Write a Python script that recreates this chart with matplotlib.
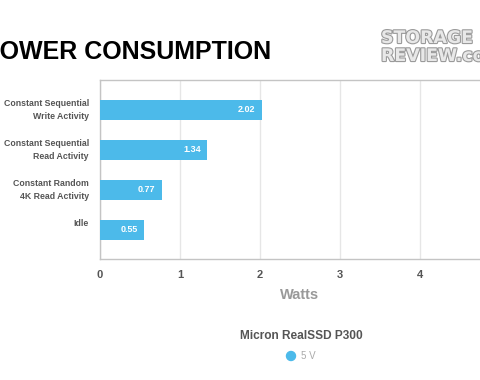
import matplotlib
matplotlib.use("Agg")
import matplotlib.pyplot as plt
import matplotlib.patheffects as pe

categories = ["Constant Sequential\nWrite Activity",
              "Constant Sequential\nRead Activity",
              "Constant Random\n4K Read Activity",
              "Idle"]
watts = [2.02, 1.34, 0.77, 0.55]
x_ticks = [0, 1, 2, 3, 4]
series_name = "5 V"
legend_title = "Micron RealSSD P300"

bar_color = "#4cbaea"
W, H = 480, 380

plt.rcParams['font.family'] = ['Liberation Sans', 'DejaVu Sans']
fig = plt.figure(figsize=(W / 100, H / 100), dpi=100)
fig.patch.set_facecolor("white")

# axes run past the right edge of the picture (up to x=5), like the original crop
ax = fig.add_axes([100 / W, (H - 259) / H, 400 / W, 179 / H])
pos = list(range(len(categories)))
ax.barh(pos, watts, height=0.5, color=bar_color, zorder=3)
ax.set_ylim(3.725, -0.75)
ax.set_xlim(0, 5)
ax.set_xticks(x_ticks)
ax.set_xticklabels([str(t) for t in x_ticks], fontsize=8, fontweight="bold", color="#555555")
ax.tick_params(axis="x", length=0, pad=8)
ax.set_yticks([])
ax.grid(axis="x", color="#e6e6e6", linewidth=1, zorder=0)
for side in ["left", "bottom", "top"]:
    ax.spines[side].set_color("#c4c4c4")
    ax.spines[side].set_linewidth(1)
ax.spines["right"].set_visible(False)
ax.set_xlabel("Watts", fontsize=10.5, fontweight="bold", color="#999999", labelpad=6)

for i, (cat, v) in enumerate(zip(categories, watts)):
    ax.text(v - 0.08, i, f"{v:.2f}", ha="right", va="center", color="white",
            fontsize=6.5, fontweight="bold", zorder=4)
    ax.text(-0.14, i - 0.27, cat, ha="right", va="top", color="#555555",
            fontsize=6.3, fontweight="bold", linespacing=1.55)

# title, first letter cut by the left edge
fig.text(-17 / W, (H - 59) / H, "POWER CONSUMPTION", fontsize=18, fontweight="bold",
         color="black", ha="left", va="baseline")

# logo
logo_fx = [pe.withStroke(linewidth=1.6, foreground="#9a9a9a")]
fig.text(381 / W, (H - 43) / H, "STORAGE", fontsize=12.5, fontweight="bold",
         color="#e8e8e8", ha="left", va="baseline", family="Liberation Sans Narrow",
         path_effects=logo_fx)
fig.text(381 / W, (H - 61) / H, "REVIEW.com", fontsize=12.5, fontweight="bold",
         color="#e8e8e8", ha="left", va="baseline", family="Liberation Sans Narrow",
         path_effects=logo_fx)

# legend
fig.text(301 / W, (H - 336) / H, legend_title, fontsize=8.6, fontweight="bold",
         color="#555555", ha="center", va="center")
fig.patches.append(matplotlib.patches.Ellipse((291 / W, (H - 356) / H), 9 / W, 9 / H,
                                              transform=fig.transFigure, color=bar_color))
fig.text(301 / W, (H - 356) / H, series_name, fontsize=7, color="#aaaaaa",
         ha="left", va="center")

fig.savefig("out.png", dpi=100)
